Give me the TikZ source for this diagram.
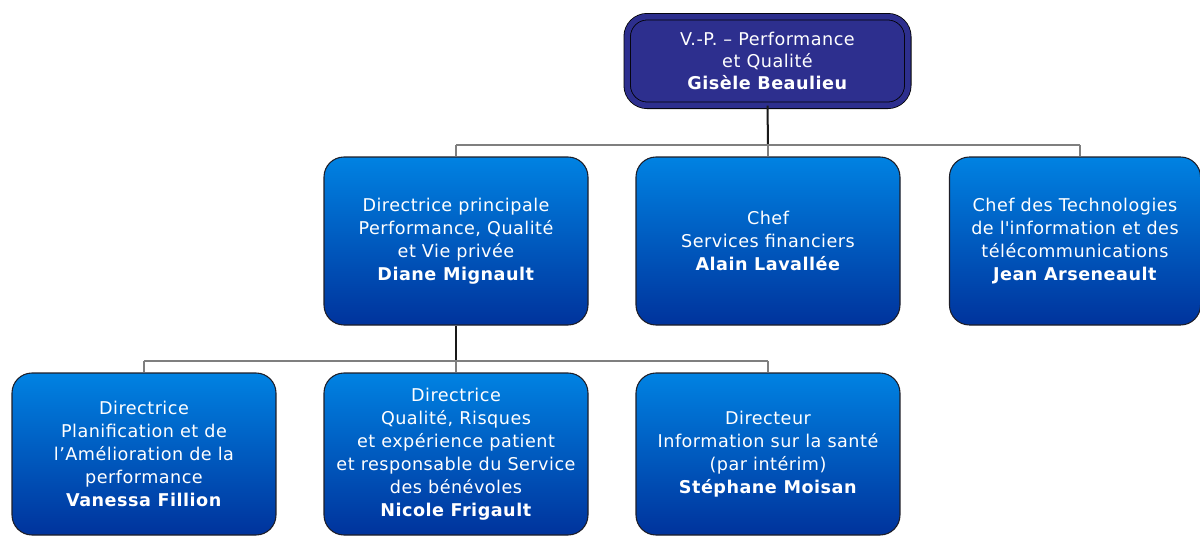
\documentclass[tikz,border=0pt]{standalone}
\usepackage{fontspec}
\setmainfont{DejaVu Sans}[LetterSpace=2.8]
\definecolor{vpfill}{HTML}{2D2F8E}
\definecolor{boxtop}{HTML}{0082E2}
\definecolor{boxbot}{HTML}{00339C}
\definecolor{edge}{HTML}{1E1E28}
\definecolor{conn}{HTML}{7F7F7F}
\tikzset{
  orgbox/.style={draw=edge, line width=0.8pt, rounded corners=15pt,
    top color=boxtop, bottom color=boxbot, text=white, align=center,
    font=\fontsize{13.2}{17.3}\selectfont, inner sep=0pt},
  midbox/.style={orgbox, minimum width=198pt, minimum height=126pt},
  lowbox/.style={orgbox, minimum width=198pt, minimum height=121.5pt},
  vpbox/.style={draw=black, line width=0.6pt, double=vpfill, double distance=4.3pt,
    rounded corners=15pt, fill=vpfill, text=white, align=center,
    font=\fontsize{13.2}{16.8}\selectfont, inner sep=0pt,
    minimum width=210.5pt, minimum height=66.5pt},
  grayline/.style={draw=conn, line width=1.5pt},
  darkline/.style={draw=black!90, line width=1.5pt}
}
\begin{document}
\begin{tikzpicture}[x=0.75pt,y=-0.75pt]
\useasboundingbox (0,0) rectangle (1200,536);
% top
\node[vpbox] (vp) at (767.5,61) {V.-P. -- Performance\\et Qualité\\\textbf{Gisèle Beaulieu}};
% middle row
\node[midbox] (m1) at (456,241) {Directrice principale\\Performance, Qualité\\et Vie privée\\\textbf{Diane Mignault}};
\node[midbox] (m2) at (768,241) {Chef\\Services financiers\\\textbf{Alain Lavallée}};
\node[orgbox, minimum width=188.3pt, minimum height=126pt] (m3) at (1075,241) {Chef des Technologies\\de l\textquotesingle information et des\\télécommunications\\\textbf{Jean Arseneault}};
% bottom row
\node[lowbox] (b1) at (144,454) {Directrice\\Planification et de\\l’Amélioration de la\\performance\\\textbf{Vanessa Fillion}};
\node[lowbox] (b2) at (456,454) {Directrice\\Qualité, Risques\\et expérience patient\\et responsable du Service\\des bénévoles\\\textbf{Nicole Frigault}};
\node[lowbox] (b3) at (768,454) {Directeur\\Information sur la santé\\(par intérim)\\\textbf{Stéphane Moisan}};
% connectors level 1
\coordinate (h1) at (768,145);
\coordinate (h1l) at (456,145);
\coordinate (h1r) at (1080,145);
\draw[darkline] (vp.south) -- (h1);
\draw[grayline] (h1l) -- (h1r);
\draw[grayline] (h1l) -- (m1.north);
\draw[grayline] (h1) -- (m2.north);
\draw[grayline] (h1r) -- (h1r |- m3.north);
% connectors level 2
\coordinate (h2) at (456,361);
\coordinate (h2l) at (144,361);
\coordinate (h2r) at (768,361);
\draw[darkline] (m1.south) -- (h2);
\draw[grayline] (h2l) -- (h2r);
\draw[grayline] (h2l) -- (b1.north);
\draw[grayline] (h2) -- (b2.north);
\draw[grayline] (h2r) -- (b3.north);
\end{tikzpicture}
\end{document}
